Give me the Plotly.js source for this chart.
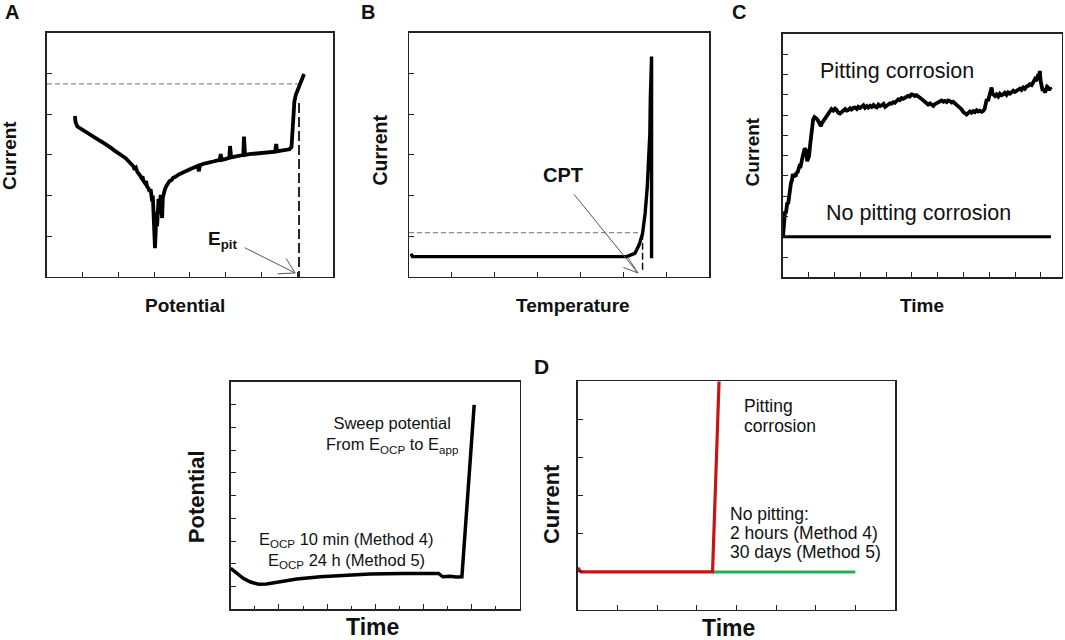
<!DOCTYPE html>
<html><head><meta charset="utf-8">
<script src="https://cdn.plot.ly/plotly-3.0.1.min.js"></script>
<style>html,body{margin:0;padding:0;background:#fff}#plot{width:1065px;height:640px}</style>
</head><body><div id="plot"></div>
<script>
// ---- Panel A: potentiodynamic polarization (Current vs Potential) ----
const aPotential = [0.78,0.80,0.85,0.92,0.98,1.06,1.15,1.25,1.34,1.44,1.54,1.62,1.71,1.80,1.87,1.95,2.04,2.12,2.20,2.27,2.33,2.38,2.42,2.45,2.49,2.53,2.57,2.60,2.64,2.67,2.70,2.74,2.77,2.80,2.84,2.87,2.90,2.92,2.94,2.96,2.98,3.00,3.02,3.04,3.06,3.08,3.10,3.12,3.14,3.16,3.18,3.20,3.22,3.24,3.27,3.30,3.34,3.38,3.43,3.48,3.53,3.58,3.64,3.70,3.76,3.82,3.88,3.94,4.00,4.08,4.16,4.22,4.25,4.28,4.36,4.45,4.55,4.65,4.75,4.83,4.86,4.89,4.98,5.06,5.10,5.12,5.15,5.25,5.35,5.45,5.49,5.51,5.54,5.65,5.80,5.95,6.10,6.25,6.38,6.41,6.44,6.55,6.68,6.78,6.84,6.87,6.89,6.92,6.96,7.02,7.08,7.14,7.19];
const aCurrent   = [3.96,3.80,3.70,3.66,3.61,3.57,3.52,3.47,3.42,3.37,3.32,3.28,3.22,3.17,3.12,3.08,3.02,2.97,2.92,2.86,2.82,2.76,2.72,2.64,2.68,2.58,2.55,2.50,2.44,2.47,2.36,2.31,2.36,2.22,2.18,2.10,2.16,2.02,1.86,2.00,1.60,1.30,0.71,1.10,1.60,1.25,1.70,1.92,1.55,1.80,2.02,1.65,1.45,1.95,2.08,2.16,2.24,2.30,2.36,2.38,2.44,2.46,2.50,2.53,2.55,2.58,2.60,2.62,2.65,2.68,2.70,2.73,2.60,2.75,2.78,2.79,2.82,2.84,2.86,2.88,3.02,2.88,2.90,2.92,2.93,3.22,2.94,2.96,2.97,2.99,3.00,3.45,3.00,3.02,3.03,3.05,3.06,3.07,3.08,3.27,3.09,3.11,3.12,3.14,3.20,3.60,4.10,4.32,4.48,4.62,4.74,4.88,4.99];
const aEpit = 7.05;          // pitting potential
const aPitLevel = 4.75;      // current level at E_pit
const aEpitTop = 4.28;

// ---- Panel B: critical pitting temperature ----
const bTemp    = [0.05,0.08,5.08,5.27,5.37,5.45,5.51,5.56,5.59,5.62,5.63,5.65,5.66,5.66];
const bCurrent = [0.57,0.50,0.50,0.58,0.79,1.07,1.57,2.22,2.88,3.53,4.35,5.42,5.42,0.46];
const bCPT = 5.45;
const bLevel = 1.09;
const bCPTBottom = 0.17;

// ---- Panel C: potentiostatic current vs time ----
const cTime = [0.00,0.02,0.05,0.08,0.11,0.14,0.17,0.20,0.23,0.27,0.31,0.35,0.38,0.42,0.46,0.49,0.53,0.56,0.59,0.63,0.67,0.70,0.74,0.77,0.80,0.84,0.88,0.91,0.94,0.97,1.01,1.05,1.09,1.13,1.17,1.22,1.27,1.32,1.37,1.42,1.47,1.51,1.56,1.62,1.69,1.75,1.82,1.88,1.95,2.02,2.08,2.14,2.21,2.28,2.34,2.41,2.47,2.53,2.60,2.66,2.73,2.79,2.86,2.92,2.99,3.05,3.12,3.18,3.25,3.31,3.38,3.44,3.51,3.57,3.64,3.70,3.77,3.83,3.90,3.96,4.02,4.08,4.15,4.21,4.28,4.34,4.40,4.47,4.53,4.60,4.66,4.72,4.79,4.85,4.92,4.98,5.05,5.11,5.18,5.24,5.31,5.37,5.44,5.50,5.57,5.63,5.70,5.76,5.83,5.89,5.96,6.02,6.09,6.15,6.22,6.28,6.35,6.41,6.47,6.54,6.60,6.67,6.73,6.80,6.86,6.93,6.99,7.05,7.12,7.18,7.25,7.31,7.38,7.44,7.51,7.57,7.63,7.70,7.76,7.82,7.86,7.90,7.95,8.00,8.05,8.09,8.13,8.17,8.22,8.28,8.35,8.41,8.47,8.54,8.60,8.67,8.73,8.80,8.86,8.93,8.99,9.06,9.12,9.19,9.25,9.32,9.38,9.45,9.51,9.57,9.64,9.70,9.77,9.82,9.86,9.90,9.93,9.96,9.99,10.03,10.07,10.11,10.16,10.20,10.24,10.28,10.32,10.36,10.39];
const cPitting = [2.00,2.55,2.84,3.25,3.15,3.50,3.70,3.62,3.99,4.35,4.65,4.80,5.10,4.95,5.02,4.98,5.20,5.15,5.31,5.45,5.40,5.64,5.80,6.00,6.14,6.35,6.30,6.05,5.72,5.85,5.97,6.50,6.96,7.40,7.79,7.90,7.87,7.80,7.70,7.55,7.46,7.60,7.70,7.85,7.95,8.05,8.20,8.30,8.22,8.32,8.25,8.12,8.08,8.18,8.20,8.30,8.22,8.25,8.34,8.28,8.36,8.37,8.30,8.41,8.35,8.42,8.48,8.36,8.44,8.37,8.46,8.40,8.50,8.42,8.38,8.52,8.45,8.48,8.55,8.40,8.45,8.50,8.58,8.56,8.64,8.61,8.72,8.78,8.74,8.84,8.80,8.86,8.90,8.95,8.92,9.02,9.00,8.94,8.98,8.90,8.86,8.80,8.72,8.68,8.61,8.52,8.58,8.50,8.45,8.54,8.58,8.62,8.64,8.72,8.66,8.70,8.64,8.72,8.69,8.62,8.66,8.58,8.53,8.45,8.38,8.28,8.15,8.10,8.03,8.10,8.18,8.12,8.20,8.15,8.24,8.18,8.22,8.16,8.20,8.30,8.55,8.78,8.70,8.95,9.10,9.36,9.05,8.98,8.94,9.02,8.92,9.05,8.98,9.02,9.10,9.00,9.12,9.06,9.11,9.20,9.14,9.22,9.26,9.31,9.24,9.36,9.30,9.42,9.44,9.52,9.48,9.62,9.77,9.68,9.90,10.01,9.85,10.18,9.70,9.41,9.20,9.30,9.11,9.25,9.40,9.36,9.22,9.34,9.27];
const cNoPitTime = [0.00,10.39];
const cNoPit     = [2.00,2.00];

// ---- Panel E (bottom left): potential vs time ----
const eTime      = [0.00,0.25,0.52,0.80,1.15,1.49,2.05,2.74,3.71,4.67,5.78,7.16,8.30,8.55,8.62,8.69,8.80,9.10,9.35,9.59,10.10];
const ePotential = [1.80,1.61,1.36,1.21,1.10,1.11,1.21,1.33,1.43,1.50,1.55,1.58,1.61,1.61,1.58,1.52,1.43,1.45,1.42,1.43,8.99];

// ---- Panel D: current vs time ----
const dTimeRed   = [0.00,0.03,0.08,3.40,3.57];
const dCurrentRed= [1.04,1.07,1.00,1.00,6.20];
const dTimeGreen = [3.42,7.00];
const dCurrentGreen = [1.00,1.00];

const FONT = 'Liberation Sans, Arial, Helvetica, sans-serif';
const BLACK = '#111';

function ax(domain, range, dtick, extra) {
  return Object.assign({
    domain: domain, range: range, autorange: false,
    tickmode: 'linear', tick0: 0, dtick: dtick,
    ticks: 'inside', ticklen: 5, tickwidth: 1, tickcolor: '#222',
    showticklabels: false, showgrid: false, zeroline: false,
    showline: true, linecolor: '#222', linewidth: 1.5, mirror: true,
    fixedrange: true
  }, extra || {});
}

const traces = [
  // A
  {x: [0, aEpit], y: [aPitLevel, aPitLevel], xaxis: 'x', yaxis: 'y', mode: 'lines',
   line: {color: '#8a8a8a', width: 1.2, dash: '5px,3px'}},
  {x: [aEpit, aEpit], y: [aEpitTop, 0], xaxis: 'x', yaxis: 'y', mode: 'lines',
   line: {color: '#111', width: 1.8, dash: '10px,4px'}},
  {x: aPotential, y: aCurrent, xaxis: 'x', yaxis: 'y', mode: 'lines',
   line: {color: '#000', width: 3.8}},
  // B
  {x: [0, bCPT], y: [bLevel, bLevel], xaxis: 'x2', yaxis: 'y2', mode: 'lines',
   line: {color: '#8a8a8a', width: 1.2, dash: '5px,3px'}},
  {x: [bCPT, bCPT], y: [bLevel, bCPTBottom], xaxis: 'x2', yaxis: 'y2', mode: 'lines',
   line: {color: '#111', width: 1.5, dash: '7px,3px'}},
  {x: bTemp, y: bCurrent, xaxis: 'x2', yaxis: 'y2', mode: 'lines',
   line: {color: '#000', width: 3.4}},
  // C
  {x: cNoPitTime, y: cNoPit, xaxis: 'x3', yaxis: 'y3', mode: 'lines',
   line: {color: '#000', width: 3}},
  {x: cTime, y: cPitting, xaxis: 'x3', yaxis: 'y3', mode: 'lines',
   line: {color: '#000', width: 3.8}},
  // E
  {x: eTime, y: ePotential, xaxis: 'x4', yaxis: 'y4', mode: 'lines',
   line: {color: '#000', width: 3.5}},
  // D
  {x: dTimeGreen, y: dCurrentGreen, xaxis: 'x5', yaxis: 'y5', mode: 'lines',
   line: {color: '#22b14c', width: 3}},
  {x: dTimeRed, y: dCurrentRed, xaxis: 'x5', yaxis: 'y5', mode: 'lines',
   line: {color: '#c81414', width: 3.2}}
];

function ptxt(text, x, y, size, opts) {
  return Object.assign({text: text, xref: 'paper', yref: 'paper', x: x, y: y,
    xanchor: 'center', yanchor: 'middle', showarrow: false,
    font: {family: FONT, size: size, color: BLACK}}, opts || {});
}
function dtxt(text, xr, yr, x, y, size, opts) {
  return Object.assign({text: text, xref: xr, yref: yr, x: x, y: y,
    xanchor: 'center', yanchor: 'middle', showarrow: false,
    font: {family: FONT, size: size, color: BLACK}}, opts || {});
}
function arrowLine(xr, yr, x, y, axp, ayp) {
  return {text: '', xref: xr, yref: yr, x: x, y: y, ax: axp, ay: ayp,
    showarrow: true, arrowhead: 0, arrowwidth: 1, arrowcolor: '#555',
    standoff: 0, startstandoff: 0};
}

const annotations = [
  // panel letters
  ptxt('<b>A</b>', 0.0108, 0.9805, 20),
  ptxt('<b>B</b>', 0.3451, 0.9817, 20),
  ptxt('<b>C</b>', 0.6939, 0.9813, 20),
  ptxt('<b>D</b>', 0.5080, 0.4266, 21),
  // axis titles
  ptxt('<b>Current</b>', 0.0094, 0.7563, 19, {textangle: -90}),
  ptxt('<b>Potential</b>', 0.1737, 0.5234, 19),
  ptxt('<b>Current</b>', 0.3568, 0.7664, 19.5, {textangle: -90}),
  ptxt('<b>Temperature</b>', 0.5383, 0.5234, 19),
  ptxt('<b>Current</b>', 0.7068, 0.7630, 19, {textangle: -90}),
  ptxt('<b>Time</b>', 0.8655, 0.5234, 19),
  ptxt('<b>Potential</b>', 0.1845, 0.2239, 22, {textangle: -90}),
  ptxt('<b>Time</b>', 0.3502, 0.0208, 23),
  ptxt('<b>Current</b>', 0.5174, 0.2125, 22, {textangle: -90}),
  ptxt('<b>Time</b>', 0.6839, 0.0183, 23),
  // panel A
  dtxt('<b>E<sub>pit</sub></b>', 'x', 'y', 4.92, 0.91, 19),
  arrowLine('x', 'y', 6.94, 0.10, -52, -26),
  arrowLine('x', 'y', 6.94, 0.10, -10, -16),
  arrowLine('x', 'y', 6.94, 0.10, -19, 1),
  // panel B
  dtxt('<b>CPT</b>', 'x2', 'y2', 3.59, 2.51, 20),
  arrowLine('x2', 'y2', 5.34, 0.10, -65, -80),
  arrowLine('x2', 'y2', 5.34, 0.10, -16, -6),
  arrowLine('x2', 'y2', 5.34, 0.10, -11, -17),
  // panel C
  dtxt('Pitting corrosion', 'x3', 'y3', 4.41, 10.18, 21.5),
  dtxt('No pitting corrosion', 'x3', 'y3', 5.27, 3.18, 21.5),
  // panel E
  dtxt('Sweep potential<br>From E<sub>OCP</sub> to E<sub>app</sub>', 'x4', 'y4', 6.68, 7.67, 16.5),
  dtxt('E<sub>OCP</sub> 10 min (Method 4)', 'x4', 'y4', 4.81, 3.03, 16.5),
  dtxt('E<sub>OCP</sub> 24 h (Method 5)', 'x4', 'y4', 4.81, 2.13, 16.5),
  // panel D
  dtxt('Pitting', 'x5', 'y5', 4.14, 5.36, 17.5, {xanchor: 'left'}),
  dtxt('corrosion', 'x5', 'y5', 4.14, 4.84, 17.5, {xanchor: 'left'}),
  dtxt('No pitting:', 'x5', 'y5', 3.80, 2.52, 17.5, {xanchor: 'left'}),
  dtxt('2 hours (Method 4)', 'x5', 'y5', 3.80, 2.02, 17.5, {xanchor: 'left'}),
  dtxt('30 days (Method 5)', 'x5', 'y5', 3.80, 1.51, 17.5, {xanchor: 'left'})
];

const layout = {
  width: 1065, height: 640, margin: {l: 0, r: 0, t: 0, b: 0},
  paper_bgcolor: '#fff', plot_bgcolor: '#fff', showlegend: false,
  font: {family: FONT, color: BLACK},
  xaxis:  ax([0.04413, 0.31268], [0, 8], 1, {anchor: 'y'}),
  yaxis:  ax([0.56719, 0.94844], [0, 6], 1, {anchor: 'x'}),
  xaxis2: ax([0.38404, 0.66573], [0, 7], 1, {anchor: 'y2'}),
  yaxis2: ax([0.56719, 0.94844], [0, 6], 1, {anchor: 'x2'}),
  xaxis3: ax([0.73521, 0.99718], [0, 10.82], 1, {anchor: 'y3'}),
  yaxis3: ax([0.56672, 0.94688], [0, 12], 1, {anchor: 'x3'}),
  xaxis4: ax([0.21662, 0.48826], [0, 12], 2, {anchor: 'y4',
          minor: {dtick: 1, ticks: 'inside', ticklen: 3, tickcolor: '#222', showgrid: false}}),
  yaxis4: ax([0.04797, 0.40313], [0, 10], 1, {anchor: 'x4'}),
  xaxis5: ax([0.54244, 0.84038], [0, 8], 1, {anchor: 'y5'}),
  yaxis5: ax([0.04688, 0.40391], [0, 6], 1, {anchor: 'x5'}),
  annotations: annotations
};

Plotly.newPlot('plot', traces, layout, {staticPlot: true, displayModeBar: false});
</script>
</body></html>
